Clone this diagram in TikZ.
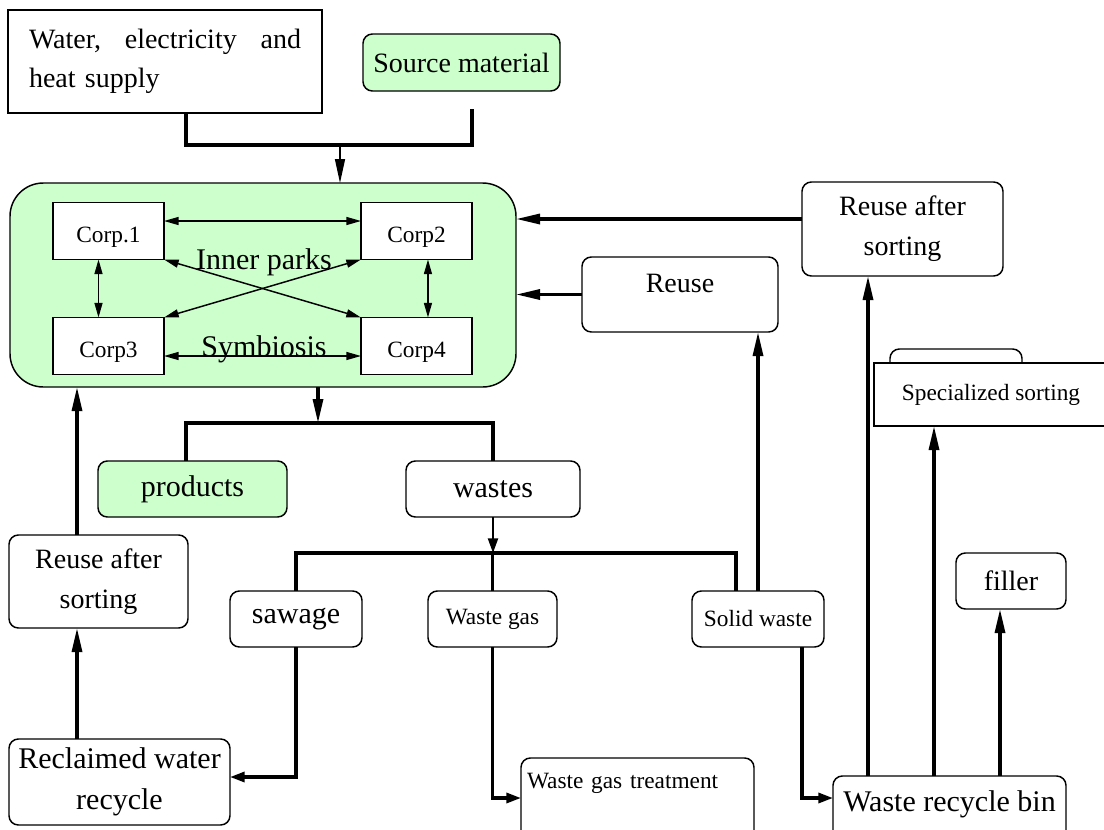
\documentclass[tikz,border=0pt]{standalone}
\usepackage{fontspec}
\setmainfont{Liberation Serif}
\usetikzlibrary{arrows.meta,calc}
\definecolor{parkgreen}{RGB}{204,255,204}
% raise a label inside its box without changing the box size
\newcommand\lifttext[2]{\raisebox{#1}[\height][\depth]{#2}}

\begin{document}
\begin{tikzpicture}[x=0.75pt,y=-0.75pt,
  sz/.style 2 args={minimum width=#1*0.75pt, minimum height=#2*0.75pt},
  box/.style={draw, line width=1.1pt, inner sep=0pt, outer sep=0pt, fill=white},
  rbox/.style={box, rounded corners=7pt},
  f28/.style={font=\fontsize{21pt}{30pt}\selectfont},
  f30/.style={font=\fontsize{22.5pt}{31pt}\selectfont},
  f24/.style={font=\fontsize{17.5pt}{21pt}\selectfont},
  flow/.style={line width=2.4pt},
  flowto/.style={flow, -{Triangle[length=18pt,width=7.5pt]}},
  flowshort/.style={flow, -{Triangle[length=11pt,width=7.5pt]}},
  link/.style={line width=1.1pt, {Triangle[length=11pt,width=6pt]}-{Triangle[length=11pt,width=6pt]}},
]
\useasboundingbox (0,0) rectangle (1104,829);
\clip (0,0) rectangle (1104,829);

% ---- inputs ----
\node[box, sz={314}{103}, f28, text width=204pt, align=left, font=\fontsize{21pt}{29pt}\selectfont]
  (supply) at (165,61.5) {Water,\hfill electricity\hfill and\\heat supply};
\node[rbox, fill=parkgreen, sz={197}{57}, f28] (src) at (461.5,62.5) {Source material};

% ---- industrial park ----
\node[box, rounded corners=25pt, fill=parkgreen, sz={506}{204}] (park) at (263,285) {};
\node[box, sz={111}{57}, f24] (c1) at (108.5,231) {\lifttext{-4.5pt}{Corp.1}};
\node[box, sz={111}{57}, f24] (c2) at (416.5,231) {\lifttext{-4.5pt}{Corp2}};
\node[box, sz={111}{57}, f24] (c3) at (108.5,346) {\lifttext{-4.5pt}{Corp3}};
\node[box, sz={111}{57}, f24] (c4) at (416.5,346) {\lifttext{-4.5pt}{Corp4}};
\draw[link] ([yshift=7.5pt]c1.east) -- ([yshift=7.5pt]c2.west);
\draw[link] ([yshift=-7.5pt]c3.east) -- ([yshift=-7.5pt]c4.west);
\draw[link] ([xshift=-7.5pt]c1.south) -- ([xshift=-7.5pt]c3.north);
\draw[link] ([xshift=8.6pt]c2.south) -- ([xshift=8.6pt]c4.north);
\draw[link] (c1.south east) -- (c4.north west);
\draw[link] (c2.south west) -- (c3.north east);
\node[f30] (inner) at (264,262) {Inner parks};
\node[f30] (symb) at (264,349) {Symbiosis};

% ---- supply feed into the park ----
\coordinate (feedL) at (186,145);
\coordinate (feedR) at (472,145);
\coordinate (feedC) at (340,145);
\coordinate (srcTail) at (472,109);
\draw[flow] (supply.south -| feedL) -- (feedL) -- (feedR) -- (srcTail);
\draw[line width=1.1pt, -{Triangle[length=18pt,width=7.5pt]}] (feedC) -- (feedC |- park.north);

% ---- recycling on the right ----
\node[rbox, sz={201}{94}, f28, align=center] (rasR) at (902.5,229) {Reuse after\\sorting};
\node[rbox, sz={196}{75}, f28] (reuse) at (680,294.5) {\lifttext{8.6pt}{Reuse}};
\path ([yshift=7.5pt]rasR.west) coordinate (rasTail);
\draw[flowto] (rasTail) -- (rasTail -| park.east);
\draw[flowto] (reuse.west) -- (reuse.west -| park.east);

\node[rbox, sz={132}{40}] (sortback) at (956,369) {};
\node[box, sz={234}{63}, f24] (sorting) at (991,394.5) {Specialized sorting};
\node[rbox, sz={110}{56}, f28] (filler) at (1011,581) {filler};
\node[rbox, sz={233}{66}, f30] (bin) at (949.5,809) {\lifttext{3.75pt}{Waste recycle bin}};
\path ($(bin.north)+(-81.5,0)$) coordinate (binA)
      ($(bin.north)+(-15.5,0)$) coordinate (binB)
      ($(bin.north)+(50.5,0)$) coordinate (binC);
\draw[flowto] (binA) -- (binA |- rasR.south);
\draw[flowto] (binB) -- (binB |- sorting.south);
\draw[flowto] (binC) -- (binC |- filler.south);

% ---- outputs of the park ----
\node[rbox, fill=parkgreen, sz={189}{56}, f30] (products) at (192.5,489) {products};
\node[rbox, sz={174}{56}, f30] (wastes) at (493,489) {wastes};
\coordinate (splitC) at (318,423);
\draw[flowto] (park.south -| splitC) -- (splitC);
\path ($(products.north)+(-6.5,0)$) coordinate (prodTap);
\draw[flow] (prodTap) |- (splitC) -| (wastes.north);

% ---- kinds of waste ----
\coordinate (branch) at (493,553);
\draw[line width=1.6pt, -{Triangle[length=11pt,width=7.5pt]}] (wastes.south) -- (branch);
\node[rbox, sz={132}{56}, f30] (sawage) at (296,619) {sawage};
\node[rbox, sz={129}{56}, f24] (gas) at (492.5,619) {Waste gas};
\node[rbox, sz={132}{56}, f24] (solid) at (758,619) {Solid waste};
\path ($(solid.north)+(-22,0)$) coordinate (solidTap);
\draw[flow] (sawage.north) |- (branch) -| (solidTap);
\draw[flow] (gas.north) -- (gas.north |- branch);
\draw[flowto] (solid.north) -- (solid.north |- reuse.south);

\node[rbox, sz={233}{90}, f24, text width=165.75pt, align=left] (gastreat) at (637.5,803)
  {\lifttext{15pt}{Waste gas treatment}};
\draw[flowshort] (gas.south) |- ($(gastreat.west)+(0,-5)$);
\path ($(solid.south)+(44,0)$) coordinate (solidDrop);
\draw[flowshort] (solidDrop) |- ($(bin.west)+(0,-11)$);

% ---- water loop on the left ----
\node[rbox, sz={179}{93}, f28, align=center] (rasL) at (98.5,581.5) {Reuse after\\sorting};
\node[rbox, sz={221}{86}, f30, align=center] (reclaim) at (119.5,782) {Reclaimed water\\recycle};
\draw[flowshort] (sawage.south) |- ($(reclaim.east)+(0,-5)$);
\path ($(rasL.north)+(-21.5,0)$) coordinate (rasLtap);
\draw[flowto] (rasLtap) -- (rasLtap |- park.south);
\draw[flowto] (rasLtap |- reclaim.north) -- (rasLtap |- rasL.south);
\end{tikzpicture}
\end{document}
